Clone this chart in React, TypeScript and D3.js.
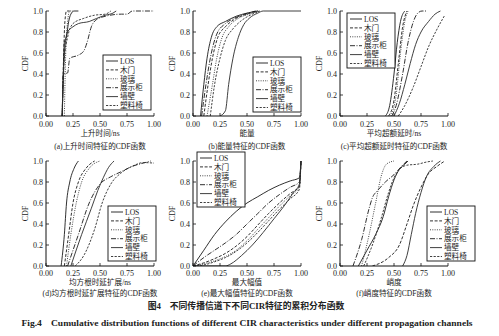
import React from "react";
import * as d3 from "d3";

// ---------- data ----------
const seriesNames = ["LOS", "木门", "玻璃", "展示柜", "墙壁", "塑料椅"];
const xTickValues = [0, 0.25, 0.5, 0.75, 1.0];
const yTickValues = [0, 0.2, 0.4, 0.6, 0.8, 1.0];
const xTitles = ["上升时间/ns", "能量", "平均超额延时/ns", "均方根时延扩展/ns", "最大幅值", "峭度"];
const captions = [
  "(a)上升时间特征的CDF函数",
  "(b)能量特征的CDF函数",
  "(c)平均超额延时特征的CDF函数",
  "(d)均方根时延扩展特征的CDF函数",
  "(e)最大幅值特征的CDF函数",
  "(f)峭度特征的CDF函数",
];

// each array: series in order LOS, 木门, 玻璃, 展示柜, 墙壁, 塑料椅 ; points [x, cdf]
const riseTimeCurves: number[][][] = [
  [[0.15, 0], [0.16, 0.4], [0.17, 0.7], [0.19, 0.76], [0.21, 0.9], [0.23, 0.97], [0.26, 1.0], [0.3, 1.0]],
  [[0.15, 0], [0.16, 0.45], [0.175, 0.9], [0.19, 1.0], [0.22, 1.0]],
  [[0.17, 0], [0.18, 0.5], [0.2, 0.9], [0.22, 1.0], [0.25, 1.0]],
  [[0.15, 0], [0.16, 0.4], [0.2, 0.41], [0.22, 0.55], [0.3, 0.58], [0.35, 0.62], [0.38, 0.7], [0.42, 0.85], [0.47, 0.92], [0.55, 0.95], [0.7, 0.97], [0.75, 0.97], [0.8, 1.0], [1.0, 1.0]],
  [[0.15, 0], [0.17, 0.6], [0.2, 0.8], [0.25, 0.85], [0.3, 0.88], [0.4, 0.9], [0.47, 0.93], [0.55, 0.96], [0.62, 0.98], [0.65, 1.0]],
  [[0.15, 0], [0.17, 0.55], [0.2, 0.75], [0.25, 0.88], [0.35, 0.93], [0.45, 0.96], [0.55, 0.97], [0.6, 1.0]],
];

const energyCurves: number[][][] = [
  [[0.07, 0], [0.1, 0.3], [0.13, 0.55], [0.17, 0.75], [0.22, 0.85], [0.3, 0.9], [0.4, 0.95], [0.5, 0.98], [0.6, 1.0]],
  [[0.1, 0], [0.14, 0.3], [0.18, 0.55], [0.23, 0.75], [0.3, 0.85], [0.4, 0.93], [0.5, 0.97], [0.6, 1.0]],
  [[0.13, 0], [0.18, 0.3], [0.22, 0.55], [0.27, 0.75], [0.33, 0.85], [0.42, 0.93], [0.52, 0.97], [0.62, 1.0]],
  [[0.08, 0], [0.12, 0.3], [0.17, 0.6], [0.22, 0.78], [0.3, 0.88], [0.38, 0.93], [0.48, 0.97], [0.58, 1.0]],
  [[0.25, 0], [0.3, 0.05], [0.33, 0.3], [0.37, 0.55], [0.42, 0.75], [0.47, 0.87], [0.52, 0.93], [0.6, 0.98], [0.65, 1.0], [1.0, 1.0]],
  [[0.16, 0], [0.2, 0.3], [0.25, 0.55], [0.3, 0.72], [0.37, 0.83], [0.45, 0.91], [0.55, 0.97], [0.62, 1.0]],
];

const meanDelayCurves: number[][][] = [
  [[0.42, 0], [0.46, 0.1], [0.5, 0.4], [0.53, 0.7], [0.56, 0.9], [0.6, 1.0]],
  [[0.45, 0], [0.5, 0.15], [0.54, 0.5], [0.58, 0.85], [0.62, 1.0]],
  [[0.47, 0], [0.52, 0.2], [0.56, 0.6], [0.6, 0.9], [0.63, 1.0]],
  [[0.48, 0], [0.52, 0.1], [0.58, 0.4], [0.63, 0.7], [0.68, 0.9], [0.72, 0.98], [0.76, 1.0], [0.8, 1.0]],
  [[0.5, 0], [0.55, 0.12], [0.6, 0.3], [0.65, 0.5], [0.7, 0.68], [0.75, 0.8], [0.82, 0.9], [0.88, 0.97], [0.93, 1.0]],
  [[0.54, 0], [0.6, 0.1], [0.68, 0.28], [0.75, 0.47], [0.82, 0.66], [0.9, 0.83], [0.97, 0.96]],
];

const rmsDelayCurves: number[][][] = [
  [[0.14, 0], [0.17, 0.3], [0.19, 0.6], [0.22, 0.8], [0.26, 0.93], [0.3, 1.0]],
  [[0.17, 0], [0.21, 0.3], [0.25, 0.6], [0.3, 0.8], [0.37, 0.93], [0.45, 1.0]],
  [[0.19, 0], [0.23, 0.3], [0.28, 0.6], [0.33, 0.8], [0.4, 0.93], [0.5, 1.0]],
  [[0.2, 0], [0.3, 0.3], [0.4, 0.6], [0.5, 0.78], [0.6, 0.85], [0.7, 0.9], [0.8, 0.95], [0.9, 0.98], [0.97, 1.0]],
  [[0.23, 0], [0.33, 0.3], [0.42, 0.55], [0.48, 0.72], [0.53, 0.84], [0.58, 0.94], [0.63, 1.0]],
  [[0.27, 0], [0.35, 0.1], [0.45, 0.35], [0.52, 0.6], [0.6, 0.78], [0.7, 0.89], [0.8, 0.95], [0.9, 0.985], [1.0, 0.98]],
];

const maxAmpCurves: number[][][] = [
  [[0, 0], [0.1, 0.15], [0.2, 0.3], [0.3, 0.42], [0.4, 0.52], [0.5, 0.6], [0.6, 0.66], [0.7, 0.72], [0.8, 0.77], [0.9, 0.81], [0.985, 0.84], [1.0, 1.0]],
  [[0, 0], [0.1, 0.03], [0.2, 0.07], [0.3, 0.12], [0.4, 0.19], [0.5, 0.28], [0.6, 0.39], [0.7, 0.5], [0.8, 0.6], [0.9, 0.69], [0.985, 0.76], [1.0, 1.0]],
  [[0, 0], [0.1, 0.02], [0.2, 0.05], [0.3, 0.09], [0.4, 0.15], [0.5, 0.24], [0.6, 0.35], [0.7, 0.46], [0.8, 0.57], [0.9, 0.67], [0.985, 0.75], [1.0, 1.0]],
  [[0, 0], [0.1, 0.08], [0.2, 0.15], [0.3, 0.22], [0.4, 0.3], [0.5, 0.4], [0.6, 0.5], [0.7, 0.6], [0.8, 0.68], [0.9, 0.75], [0.985, 0.8], [1.0, 1.0]],
  [[0, 0], [0.3, 0.0], [0.35, 0.02], [0.45, 0.1], [0.55, 0.2], [0.65, 0.32], [0.75, 0.45], [0.85, 0.58], [0.93, 0.7], [0.985, 0.78], [1.0, 1.0]],
  [[0, 0], [0.1, 0.01], [0.2, 0.04], [0.3, 0.08], [0.4, 0.14], [0.5, 0.22], [0.6, 0.32], [0.7, 0.43], [0.8, 0.54], [0.9, 0.64], [0.985, 0.73], [1.0, 1.0]],
];

const kurtosisCurves: number[][][] = [
  [[0.17, 0], [0.25, 0.15], [0.33, 0.3], [0.4, 0.47], [0.45, 0.66], [0.5, 0.82], [0.55, 0.92], [0.6, 0.97], [0.63, 1.0]],
  [[0.3, 0], [0.45, 0.08], [0.55, 0.2], [0.62, 0.4], [0.68, 0.58], [0.75, 0.75], [0.82, 0.88], [0.9, 0.95], [0.97, 1.0]],
  [[0.2, 0], [0.27, 0.3], [0.33, 0.6], [0.38, 0.85], [0.43, 0.97], [0.5, 1.0]],
  [[0.12, 0], [0.2, 0.25], [0.27, 0.55], [0.3, 0.65], [0.35, 0.72], [0.42, 0.8], [0.5, 0.87], [0.57, 0.95], [0.62, 1.0]],
  [[0.58, 0], [0.62, 0.1], [0.66, 0.3], [0.7, 0.5], [0.75, 0.7], [0.8, 0.85], [0.87, 0.95], [0.93, 1.0]],
  [[0.22, 0], [0.3, 0.2], [0.38, 0.45], [0.45, 0.7], [0.5, 0.84], [0.55, 0.92], [0.62, 0.96], [0.72, 0.97], [0.8, 0.99], [0.86, 1.0]],
];

const panelData = [riseTimeCurves, energyCurves, meanDelayCurves, rmsDelayCurves, maxAmpCurves, kurtosisCurves];

// ---------- styles / layout ----------
const dashes = ["", "3,1.6", "1,1.3", "5,1.5,1,1.5", "", "2.2,1.4"];
const strokes = ["#1a1a1a", "#1a1a1a", "#333", "#1a1a1a", "#2a2a2a", "#2a2a2a"];

interface Layout { x0: number; x1: number; y0: number; y1: number; lx: number; ly: number; tickDy: number; titleDy: number; capDy: number }
const layouts: Layout[] = [
  { x0: 46, x1: 154, y0: 11, y1: 116, lx: 103, ly: 55, tickDy: 10.5, titleDy: 20, capDy: 33 },
  { x0: 193, x1: 301, y0: 11, y1: 116, lx: 253, ly: 57, tickDy: 10.5, titleDy: 20, capDy: 33 },
  { x0: 340, x1: 448, y0: 11, y1: 116, lx: 347, ly: 13, tickDy: 10.5, titleDy: 20, capDy: 33 },
  { x0: 46, x1: 154, y0: 161, y1: 266, lx: 108, ly: 206, tickDy: 10, titleDy: 19, capDy: 30 },
  { x0: 193, x1: 301, y0: 161, y1: 266, lx: 197, ly: 152, tickDy: 10, titleDy: 19, capDy: 30 },
  { x0: 340, x1: 448, y0: 161, y1: 266, lx: 427, ly: 206, tickDy: 10, titleDy: 19, capDy: 30 },
];

const serif = "'Liberation Serif', 'DejaVu Serif', serif";
const cjk = "'Liberation Serif', 'Noto Sans CJK SC', serif";
const textColor = "#222";

function Panel({ idx }: { idx: number }) {
  const L = layouts[idx];
  const curves = panelData[idx];
  const x = d3.scaleLinear().domain([0, 1]).range([L.x0, L.x1]);
  const y = d3.scaleLinear().domain([0, 1]).range([L.y1, L.y0]);
  const line = d3
    .line<number[]>()
    .x((d) => x(d[0]))
    .y((d) => y(d[1]))
    .curve(d3.curveMonotoneX);
  const clipId = `clip${idx}`;
  const cx = (L.x0 + L.x1) / 2;
  const legW = 48;
  const legH = 55;
  const rowH = 8.9;
  return (
    <g>
      <defs>
        <clipPath id={clipId}>
          <rect x={L.x0} y={L.y0 - 2} width={L.x1 - L.x0 + 2} height={L.y1 - L.y0 + 2} />
        </clipPath>
      </defs>
      <g clipPath={`url(#${clipId})`}>
        {curves.map((pts, i) => (
          <path
            key={i}
            d={line(pts) || ""}
            fill="none"
            stroke={strokes[i]}
            strokeWidth={0.9}
            strokeDasharray={dashes[i]}
          />
        ))}
      </g>
      <line x1={L.x0} x2={L.x0} y1={L.y0} y2={L.y1} stroke="#111" strokeWidth={1} />
      <line x1={L.x0} x2={L.x1} y1={L.y1} y2={L.y1} stroke="#111" strokeWidth={1} />
      {yTickValues.map((t) => (
        <g key={"y" + t}>
          <line x1={L.x0} x2={L.x0 + 3} y1={y(t)} y2={y(t)} stroke="#111" strokeWidth={0.8} />
          <text x={L.x0 - 3} y={y(t) + 2.5} fontSize={8} fontFamily={serif} textAnchor="end" fill={textColor}>
            {t.toFixed(1)}
          </text>
        </g>
      ))}
      {xTickValues.map((t) => (
        <g key={"x" + t}>
          <line x1={x(t)} x2={x(t)} y1={L.y1} y2={L.y1 - 3} stroke="#111" strokeWidth={0.8} />
          <text x={x(t)} y={L.y1 + L.tickDy} fontSize={8} fontFamily={serif} textAnchor="middle" fill={textColor}>
            {t.toFixed(2)}
          </text>
        </g>
      ))}
      <text
        transform={`translate(${L.x0 - 18},${(L.y0 + L.y1) / 2}) rotate(-90)`}
        fontSize={8}
        fontFamily={serif}
        textAnchor="middle"
        fill={textColor}
      >
        CDF
      </text>
      <text x={cx} y={L.y1 + L.titleDy} fontSize={7.6} fontFamily={cjk} textAnchor="middle" fill={textColor}>
        {xTitles[idx]}
      </text>
      <text x={cx} y={L.y1 + L.capDy} fontSize={7.6} fontFamily={cjk} textAnchor="middle" fill={textColor}>
        {captions[idx]}
      </text>
      <g transform={`translate(${L.lx},${L.ly})`}>
        <rect x={0} y={0} width={legW} height={legH} fill="#fff" stroke="#111" strokeWidth={0.9} />
        {seriesNames.map((name, i) => (
          <g key={name} transform={`translate(0,${6 + i * rowH})`}>
            <line x1={3} x2={15} y1={0} y2={0} stroke={strokes[i]} strokeWidth={0.9} strokeDasharray={dashes[i]} />
            <text x={17} y={2.7} fontSize={7.6} fontFamily={cjk} fill={textColor}>
              {name}
            </text>
          </g>
        ))}
      </g>
    </g>
  );
}

export default function App() {
  return (
    <svg width={499} height={336} style={{ position: "absolute", left: 0, top: 0, background: "#fff" }}>
      <rect x={0} y={0} width={499} height={336} fill="#fff" />
      {layouts.map((_, i) => (
        <Panel key={i} idx={i} />
      ))}
      <text x={246} y={309} fontSize={8.8} fontFamily={cjk} fontWeight="bold" textAnchor="middle" fill="#222">
        图4　不同传播信道下不同CIR特征的累积分布函数
      </text>
      <text
        x={247}
        y={326}
        fontSize={8.4}
        fontFamily={serif}
        fontWeight="bold"
        textAnchor="middle"
        fill="#222"
        textLength={451}
        lengthAdjust="spacingAndGlyphs"
      >
        Fig.4　Cumulative distribution functions of different CIR characteristics under different propagation channels
      </text>
    </svg>
  );
}
